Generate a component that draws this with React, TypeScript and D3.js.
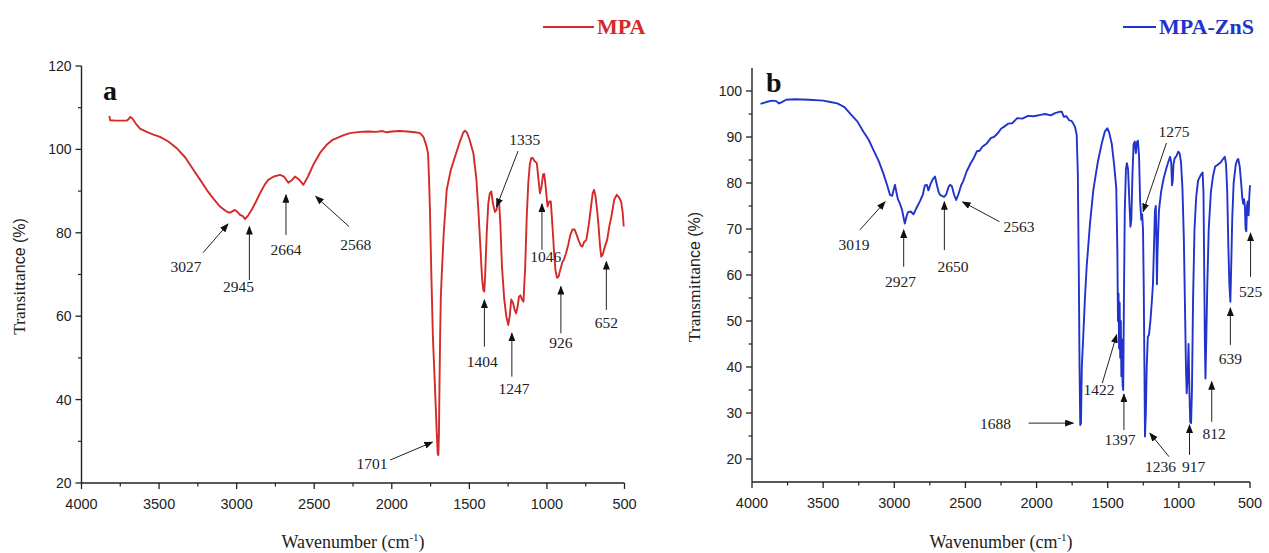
import React from 'react';
import * as d3 from 'd3';

// FTIR spectrum of MPA (panel a)
const mpaWavenumber = [
  3821, 3815, 3780, 3740, 3709, 3695, 3687, 3672, 3650, 3623, 3580, 3540, 3494, 3440, 3386, 3330,
  3279, 3235, 3193, 3150, 3107, 3070, 3043, 3025, 3011, 2995, 2978, 2960, 2946, 2925, 2903, 2875,
  2849, 2820, 2796, 2760, 2720, 2695, 2667, 2645, 2624, 2598, 2570, 2540, 2506, 2460, 2420, 2385,
  2355, 2310, 2269, 2205, 2150, 2100, 2060, 2033, 2000, 1950, 1900, 1850, 1818, 1807, 1795, 1785,
  1775, 1766, 1760, 1754, 1745, 1735, 1721, 1710, 1704, 1700, 1696, 1692, 1688, 1684, 1678, 1665,
  1646, 1620, 1592, 1560, 1540, 1528, 1515, 1500, 1474, 1455, 1442, 1428, 1418, 1410, 1404, 1398,
  1388, 1378, 1368, 1358, 1348, 1335, 1325, 1316, 1308, 1300, 1290, 1275, 1262, 1249, 1240, 1230,
  1218, 1208, 1199, 1190, 1180, 1171, 1160, 1151, 1140, 1130, 1120, 1110, 1101, 1093, 1080, 1065,
  1055, 1045, 1035, 1025, 1017, 1008, 996, 985, 975, 965, 955, 945, 935, 925, 915, 900,
  891, 877, 863, 849, 835, 822, 808, 794, 780, 772, 760, 746, 730, 715, 705, 696,
  688, 678, 668, 658, 650, 640, 628, 612, 598, 584, 566, 550, 535, 522, 512, 505,
];
const mpaTransmittance = [
  108.0, 107.0, 106.9, 106.9, 106.9, 107.3, 107.8, 107.4, 106.2, 105.0, 104.2, 103.6, 103.0, 101.9, 100.3, 98.0,
  95.1, 92.7, 90.3, 88.2, 86.3, 85.2, 84.8, 85.2, 85.5, 85.0, 84.3, 84.0, 83.3, 84.2, 85.5, 87.5,
  89.5, 91.5, 92.7, 93.5, 93.9, 93.5, 92.0, 92.6, 93.5, 92.8, 91.5, 93.5, 96.3, 99.3, 101.1, 102.2,
  102.7, 103.4, 103.9, 104.2, 104.3, 104.2, 104.4, 104.1, 104.3, 104.4, 104.3, 104.1, 103.9, 103.5, 102.9, 101.8,
  100.6, 99.0, 93.0, 85.5, 70.0, 55.0, 42.3, 32.0, 27.1, 26.7, 32.0, 45.0, 56.0, 64.5, 70.0, 80.0,
  90.3, 95.0, 98.3, 102.0, 104.0, 104.5, 104.0, 102.5, 99.1, 93.0, 85.5, 76.0, 69.0, 66.3, 65.9, 70.0,
  80.0, 87.0, 89.5, 89.9, 87.0, 85.0, 85.5, 87.5, 87.0, 82.0, 72.0, 64.0, 60.0, 57.9, 60.0, 64.0,
  63.1, 61.5, 60.7, 62.0, 64.7, 65.0, 64.0, 63.5, 72.0, 84.0, 92.0, 96.5, 97.9, 98.0, 97.2, 96.7,
  93.0, 89.5, 91.0, 94.0, 94.1, 91.0, 86.3, 87.5, 87.5, 82.0, 76.0, 71.0, 69.2, 69.5, 71.0, 73.0,
  73.5, 75.1, 77.1, 79.5, 80.8, 80.8, 79.5, 78.0, 76.8, 76.7, 77.8, 78.3, 82.0, 86.5, 89.5, 90.3,
  89.0, 86.0, 82.0, 77.0, 74.3, 74.8, 76.5, 78.3, 81.5, 84.0, 88.0, 89.1, 88.5, 87.5, 85.0, 81.5,
];

// FTIR spectrum of MPA-ZnS (panel b)
const znsWavenumber = [
  3940, 3900, 3860, 3830, 3810, 3790, 3760, 3700, 3600, 3500, 3450, 3400, 3350, 3310, 3260, 3218,
  3180, 3147, 3110, 3077, 3050, 3030, 3015, 3005, 2995, 2985, 2975, 2960, 2945, 2935, 2926, 2915,
  2905, 2885, 2865, 2845, 2820, 2800, 2785, 2772, 2760, 2745, 2730, 2714, 2700, 2688, 2679, 2665,
  2650, 2635, 2620, 2608, 2595, 2580, 2565, 2550, 2530, 2517, 2490, 2463, 2440, 2420, 2400, 2381,
  2350, 2320, 2300, 2272, 2250, 2230, 2200, 2170, 2136, 2100, 2060, 2020, 1972, 1940, 1900, 1870,
  1836, 1823, 1808, 1790, 1770, 1754, 1740, 1730, 1718, 1710, 1703, 1698, 1693, 1688, 1682, 1672,
  1660, 1648, 1625, 1601, 1570, 1542, 1520, 1503, 1490, 1472, 1455, 1440, 1432, 1428, 1424, 1420,
  1416, 1412, 1408, 1404, 1400, 1395, 1391, 1386, 1380, 1372, 1365, 1357, 1348, 1340, 1334, 1326,
  1318, 1310, 1302, 1296, 1288, 1280, 1272, 1264, 1258, 1252, 1247, 1242, 1238, 1232, 1226, 1218,
  1210, 1200, 1191, 1182, 1175, 1168, 1162, 1158, 1154, 1150, 1140, 1125, 1109, 1090, 1075, 1062,
  1054, 1048, 1043, 1038, 1030, 1015, 1004, 995, 985, 975, 965, 958, 950, 945, 938, 932,
  926, 920, 914, 908, 900, 890, 878, 865, 850, 840, 833, 827, 822, 817, 813, 808,
  800, 790, 775, 760, 745, 725, 705, 690, 677, 668, 660, 652, 645, 638, 632, 625,
  615, 600, 590, 582, 572, 562, 555, 548, 542, 536, 531, 526, 521, 516, 510, 505,
  500,
];
const znsTransmittance = [
  97.2, 97.6, 97.9, 97.8, 97.3, 97.6, 98.1, 98.2, 98.1, 97.9, 97.6, 97.3, 96.5, 95.1, 93.4, 91.2,
  89.4, 87.2, 84.8, 82.1, 79.5, 77.4, 77.2, 78.5, 79.6, 78.0, 76.5, 75.5, 74.1, 72.5, 71.2, 72.6,
  73.6, 73.8, 73.2, 74.5, 76.0, 77.4, 79.5, 79.6, 78.4, 79.8, 80.8, 81.4, 79.5, 78.0, 77.4, 77.2,
  77.0, 77.5, 79.0, 79.6, 79.3, 77.5, 76.3, 77.5, 79.5, 80.3, 82.6, 84.3, 85.5, 86.9, 87.0, 87.9,
  88.6, 89.8, 90.0, 90.8, 91.8, 92.2, 92.9, 93.0, 94.1, 94.0, 94.6, 94.5, 94.8, 95.0, 94.7, 95.2,
  95.5, 95.5, 94.4, 94.5, 93.6, 93.5, 92.8, 92.2, 90.5, 82.0, 60.0, 40.0, 27.4, 27.8, 40.0, 46.6,
  55.0, 61.8, 71.0, 78.5, 84.5, 88.6, 91.2, 91.9, 91.0, 88.6, 84.0, 79.0, 65.0, 50.0, 56.0, 44.0,
  54.0, 42.0, 50.0, 38.0, 46.0, 36.0, 35.0, 55.0, 74.0, 83.0, 84.3, 83.0, 76.0, 70.5, 72.0, 82.0,
  88.5, 89.0, 86.5, 88.8, 89.2, 86.0, 76.0, 72.0, 73.2, 70.0, 58.0, 40.0, 24.9, 30.0, 40.0, 46.6,
  47.0, 50.0, 53.8, 58.0, 66.0, 74.0, 75.0, 68.0, 58.0, 65.0, 74.0, 78.0, 80.7, 83.0, 84.5, 85.7,
  84.5, 79.5, 80.5, 84.0, 85.3, 86.0, 86.8, 86.5, 84.5, 79.0, 68.0, 55.0, 40.0, 34.3, 38.0, 45.0,
  35.0, 28.0, 27.8, 35.0, 55.0, 70.0, 77.0, 80.5, 81.5, 82.0, 82.3, 78.0, 62.0, 45.0, 37.5, 45.0,
  58.0, 70.0, 78.0, 81.5, 83.6, 84.0, 84.5, 85.2, 85.7, 84.0, 78.0, 66.0, 58.0, 54.2, 62.0, 72.0,
  80.0, 84.0, 85.0, 85.2, 83.5, 80.0, 77.0, 75.5, 76.5, 75.0, 70.0, 69.5, 75.0, 76.0, 73.0, 77.0,
  79.5,
];

const xTickValues = [4000, 3500, 3000, 2500, 2000, 1500, 1000, 500];
const xMinorValues = [3750, 3250, 2750, 2250, 1750, 1250, 750];
const mpaYTicks = [20, 40, 60, 80, 100, 120];
const mpaYMinor = [30, 50, 70, 90, 110];
const znsYTicks = [20, 30, 40, 50, 60, 70, 80, 90, 100];
const znsYMinor = [25, 35, 45, 55, 65, 75, 85, 95];

// peak labels: text, text position, arrow tail, arrow tip (wavenumber, %)
const mpaPeaks = [
  ['3027', 3326, 70.6, 3217, 75.2, 3056, 82.1],
  ['2945', 2988, 65.8, 2918, 68.7, 2918, 81.5],
  ['2664', 2682, 74.7, 2682, 79.5, 2682, 89.1],
  ['2568', 2233, 75.9, 2276, 81.5, 2490, 88.7],
  ['1335', 1143, 101.1, 1186, 99.6, 1324, 86.3],
  ['1046', 1008, 73.0, 1032, 75.9, 1032, 86.9],
  ['1404', 1417, 47.8, 1403, 52.7, 1403, 63.9],
  ['1247', 1212, 41.3, 1226, 45.5, 1226, 55.9],
  ['926', 910, 52.4, 910, 55.9, 910, 67.1],
  ['652', 617, 57.2, 617, 61.5, 617, 73.1],
  ['1701', 2127, 23.4, 2011, 25.5, 1738, 29.8],
];
const znsPeaks = [
  ['3019', 3283, 65.4, 3242, 69.8, 3065, 75.9],
  ['2927', 2956, 57.4, 2934, 61.8, 2934, 69.8],
  ['2650', 2587, 60.7, 2648, 65.4, 2648, 75.9],
  ['2563', 2124, 69.3, 2261, 71.6, 2520, 75.9],
  ['1275', 1034, 90.0, 1087, 88.7, 1251, 73.8],
  ['1422', 1561, 33.9, 1538, 36.5, 1437, 47.0],
  ['1397', 1414, 23.0, 1386, 26.3, 1386, 34.1],
  ['1688', 2289, 26.5, 2056, 27.8, 1743, 27.8],
  ['1236', 1129, 17.2, 1069, 20.5, 1203, 25.6],
  ['917', 897, 17.2, 925, 20.9, 925, 27.4],
  ['812', 753, 24.3, 769, 28.1, 769, 36.8],
  ['639', 638, 40.7, 638, 44.8, 638, 52.8],
  ['525', 496, 55.2, 496, 59.6, 496, 69.1],
];

const SANS = 'Liberation Sans, Arial, sans-serif';
const SERIF = 'Liberation Serif, Times New Roman, serif';

function Panel(props) {
  const { wn, tr, color, x0, x1, yDomain, yTop, yBot, yTicks, yMinor, peaks,
    letter, letterX, letterY, titleA, titleB, titleX, legend, legendX } = props;
  const x = d3.scaleLinear().domain([4000, 500]).range([x0, x1]);
  const y = d3.scaleLinear().domain(yDomain).range([yBot, yTop]);
  const pts = wn.map((w, i) => [w, tr[i]]);
  const line = d3.line().x(d => x(d[0])).y(d => y(d[1]));
  const titleY = (yTop + yBot) / 2 + 2;
  return (
    <g>
      <path d={line(pts)} fill="none" stroke={color} strokeWidth={1.9} strokeLinejoin="round" />
      {/* axes */}
      <line x1={x0} x2={x0} y1={yTop} y2={yBot} stroke="#222" strokeWidth={1.4} />
      <line x1={x0} x2={x1} y1={yBot} y2={yBot} stroke="#222" strokeWidth={1.4} />
      {yTicks.map(t => (
        <g key={'yt' + t}>
          <line x1={x0 - 6} x2={x0} y1={y(t)} y2={y(t)} stroke="#222" strokeWidth={1.3} />
          <text x={x0 - 10} y={y(t)} dy="0.36em" textAnchor="end" fontFamily={SANS} fontSize={14} fill="#222">{t}</text>
        </g>
      ))}
      {yMinor.map(t => (
        <line key={'ym' + t} x1={x0 - 3.5} x2={x0} y1={y(t)} y2={y(t)} stroke="#222" strokeWidth={1.2} />
      ))}
      {xTickValues.map(t => (
        <g key={'xt' + t}>
          <line x1={x(t)} x2={x(t)} y1={yBot} y2={yBot + 6} stroke="#222" strokeWidth={1.3} />
          <text x={x(t)} y={yBot + 26} textAnchor="middle" fontFamily={SANS} fontSize={14.5} fill="#222">{t}</text>
        </g>
      ))}
      {xMinorValues.map(t => (
        <line key={'xm' + t} x1={x(t)} x2={x(t)} y1={yBot} y2={yBot + 3.5} stroke="#222" strokeWidth={1.2} />
      ))}
      {/* peak annotations */}
      {peaks.map(p => (
        <g key={'pk' + p[0]}>
          <line x1={x(p[3])} y1={y(p[4])} x2={x(p[5])} y2={y(p[6])} stroke="#222" strokeWidth={1}
            markerEnd="url(#arrowHead)" />
          <text x={x(p[1])} y={y(p[2])} textAnchor="middle" fontFamily={SERIF} fontSize={15.5} fill="#222">{p[0]}</text>
        </g>
      ))}
      <text x={letterX} y={letterY} fontFamily={SERIF} fontWeight="bold" fontSize={28} fill="#111">{letter}</text>
      <text transform={`translate(${titleX},${titleY}) rotate(-90)`} textAnchor="middle" fontSize={17.5} fill="#222">
        <tspan fontFamily={SERIF}>{titleA}</tspan>
        <tspan fontFamily={SANS} fontSize={16}>{titleB}</tspan>
      </text>
      <text x={(x0 + x1) / 2} y={548} textAnchor="middle" fontFamily={SERIF} fontSize={18} fill="#222">
        Wavenumber (cm<tspan dy={-7} fontSize={11}>-1</tspan><tspan dy={7}>)</tspan>
      </text>
      <line x1={legendX[0]} x2={legendX[1]} y1={27} y2={27} stroke={color} strokeWidth={2} />
      <text x={legendX[1] + 3} y={34} fontFamily={SERIF} fontWeight="bold" fontSize={22} fill={color}>{legend}</text>
    </g>
  );
}

export default function App() {
  return (
    <svg width={1269} height={553} style={{ position: 'absolute', left: 0, top: 0, background: '#fff' }}>
      <defs>
        <marker id="arrowHead" markerUnits="userSpaceOnUse" markerWidth={9} markerHeight={7}
          refX={8} refY={3.5} orient="auto">
          <path d="M0,0 L9,3.5 L0,7 z" fill="#111" />
        </marker>
      </defs>
      <rect width={1269} height={553} fill="#fff" />
      <Panel wn={mpaWavenumber} tr={mpaTransmittance} color="#d42a2a"
        x0={81.5} x1={624.5} yDomain={[20, 120]} yTop={66} yBot={483}
        yTicks={mpaYTicks} yMinor={mpaYMinor} peaks={mpaPeaks}
        letter="a" letterX={103} letterY={100} titleA="Transitta" titleB="nce (%)" titleX={25}
        legend="MPA" legendX={[543, 594]} />
      <Panel wn={znsWavenumber} tr={znsTransmittance} color="#2233cc"
        x0={752} x1={1250} yDomain={[15, 105]} yTop={68} yBot={482}
        yTicks={znsYTicks} yMinor={znsYMinor} peaks={znsPeaks}
        letter="b" letterX={766} letterY={92} titleA="Transmitta" titleB="nce (%)" titleX={700}
        legend="MPA-ZnS" legendX={[1123, 1156]} />
    </svg>
  );
}
